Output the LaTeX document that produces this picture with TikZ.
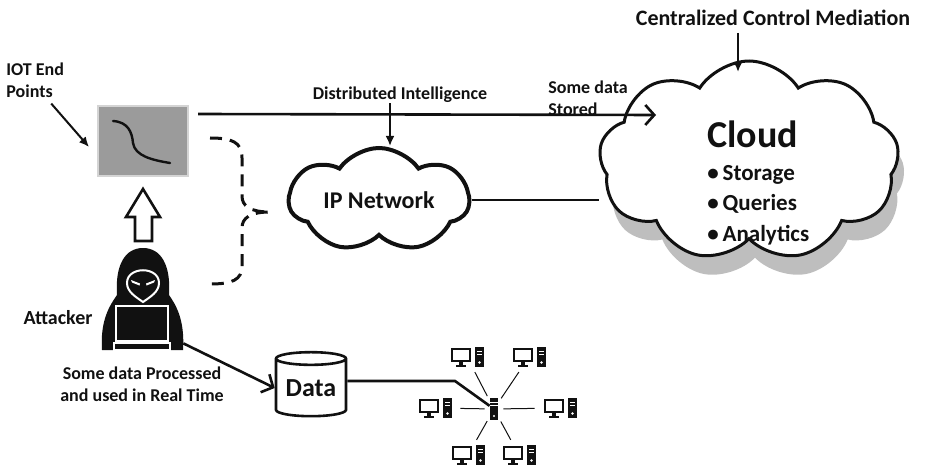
\documentclass[tikz,border=0pt]{standalone}
\usepackage{fontspec}
\setmainfont{Carlito}
\usetikzlibrary{positioning, arrows.meta, shapes.symbols, shapes.geometric}
\definecolor{ink}{HTML}{111111}
\definecolor{pad}{HTML}{9B9B9B}
\definecolor{rim}{HTML}{D4D4D4}
\definecolor{haze}{HTML}{BEBEBE}

\tikzset{
  pc/.pic={
    \draw[ink, line width=1.2pt] (-15,-8) rectangle (3,4);
    \fill[ink] (-8,4) rectangle (-4,8);
    \fill[ink] (-11,7.5) rectangle (-1,10);
    \fill[ink] (8,-10) rectangle (17,10);
    \draw[white, line width=0.45pt] (10,-6) -- (15,-6) (10,-3) -- (15,-3);
    \fill[white] (12.5,5.5) circle (1.3);
  }
}

\begin{document}
\begin{tikzpicture}[x=0.5pt, y=-0.5pt, ink,
  lbl/.style={font=\bfseries\fontsize{9}{11}\selectfont, inner sep=0pt},
  arr/.style={-{Latex[length=5pt, width=4.5pt]}, line width=1pt},
  barb/.style={-{Straight Barb[length=4.5pt, width=10pt]}, line width=1.3pt},
  wire/.style={line width=1.3pt},
  spoke/.style={line width=0.5pt, shorten <=2.5pt, shorten >=1pt},
  pcbox/.style={minimum width=23pt, minimum height=13pt, inner sep=0pt},
  bigcloud/.style={cloud, cloud puffs=9, cloud puff arc=115, cloud ignores aspect,
                   minimum width=150pt, minimum height=100pt, inner sep=0pt},
  brace/.style={line width=1.5pt, dash pattern=on 6pt off 4pt}]
  \useasboundingbox (0,0) rectangle (935,470);

  \node[draw=rim, line width=1pt, fill=pad, minimum width=45pt, minimum height=35pt, inner sep=0pt] (ep) at (143,141) {};
  \draw[line width=1.2pt, line cap=round] (113,121) .. controls (128,122) and (132,132) .. (133,143)
    .. controls (135,156) and (152,160) .. (170,163);
  \node[lbl, align=left, anchor=north west] (iot) at (6,62) {IOT End\\Points};
  \draw[arr] ([shift={(8pt,-3pt)}]iot.south) -- ([shift={(-4pt,-3pt)}]ep.west);

  \draw[line width=1.3pt, fill=white] (143,189) -- (160,217) -- (152,217) -- (152,241)
    -- (135,241) -- (135,217) -- (126,217) -- cycle;

  \node[minimum width=40pt, minimum height=55pt, inner sep=0pt] (hk) at (143,303) {};
  \fill (102,350) .. controls (100,320) and (110,305) .. (117,295) .. controls (115,265) and (125,248) .. (143,248)
    .. controls (161,248) and (171,265) .. (169,295) .. controls (176,305) and (185,320) .. (183,350) -- cycle;
  \draw[white, line width=1pt, fill=ink] (127,283) .. controls (127,266) and (159,266) .. (159,283)
    .. controls (159,292) and (150,297) .. (143,302) .. controls (136,297) and (127,292) .. (127,283) -- cycle;
  \fill[white] (131,280) -- (140,283.5) -- (139.5,285.5) -- (132,282.5) -- cycle;
  \fill[white] (155,280) -- (146,283.5) -- (146.5,285.5) -- (154,282.5) -- cycle;
  \draw[white, line width=1pt, fill=ink] (116,306) rectangle (168,341);
  \draw[white, line width=1pt, fill=ink] (114,343) rectangle (170,350);
  \node[font=\bfseries\fontsize{10}{12}\selectfont] (atk) at (58,318) {Attacker};

  \draw[brace] (210,138) .. controls (232,138) and (242,142) .. (242,158) -- (242,196)
    .. controls (242,206) and (250,212) .. (270,212) .. controls (250,212) and (242,218) .. (242,228)
    -- (242,266) .. controls (242,280) and (232,284) .. (210,284);

  \node[cloud, cloud puffs=7, cloud puff arc=110, cloud ignores aspect, draw, line width=2pt, fill=white,
        minimum width=90pt, minimum height=52pt, inner sep=0pt,
        font=\bfseries\fontsize{12}{12}\selectfont] (ip) at (379,200) {IP Network};
  \node[lbl] (di) at (400,95) {Distributed Intelligence};
  \coordinate (dix) at (390,0);
  \draw[arr] (di.south -| dix) -- (ip.north -| dix);

  \node[bigcloud, fill=haze] (shd) at (755,180) {};
  \node[bigcloud, draw, line width=1.5pt, fill=white] (cl) at (749,161) {};
  \node[anchor=base west, inner sep=0pt, font=\bfseries\fontsize{19}{19}\selectfont] (clw) at (707,148) {Cloud};
  \node[anchor=base west, align=left, inner sep=0pt, font=\bfseries\fontsize{11.5}{15}\selectfont] (cll) at (707,241)
    {•\,Storage\\•\,Queries\\•\,Analytics};
  \node[font=\bfseries\fontsize{11}{13}\selectfont] (ccm) at (773,18) {Centralized Control Mediation};
  \coordinate (cctip) at (738,72);
  \draw[arr] (ccm.south -| cctip) -- (cctip);

  \node[lbl, align=left, anchor=north west] (sd) at (548,80) {Some data\\Stored};
  \coordinate (st) at (656,115);
  \draw[barb] ([shift={(4.5pt,-4.5pt)}]ep.north east) -- (st);
  \draw[wire] (ip.east) -- (ip.east -| cl.west);

  \node[cylinder, shape border rotate=90, draw, line width=1.3pt, aspect=0.25, minimum width=35pt,
        minimum height=32pt, inner sep=0pt, font=\bfseries\fontsize{13}{13}\selectfont] (db) at (311,388) {Data};
  \node[lbl, align=center] (rt) at (142,384) {Some data Processed\\and used in Real Time};
  \draw[barb] (hk.-45) -- (db.west);

  \node[fill=ink, minimum width=4pt, minimum height=11pt, inner sep=0pt,
        path picture={\draw[white, line width=0.4pt]
          ([yshift=-2pt]path picture bounding box.north west) -- ([yshift=-2pt]path picture bounding box.north east)
          ([yshift=-3.5pt]path picture bounding box.north west) -- ([yshift=-3.5pt]path picture bounding box.north east);
          \fill[white] ([yshift=2pt]path picture bounding box.south) circle (0.6pt);}] (srv) at (494,409) {};
  \coordinate (kink) at (455,381);
  \draw[wire] (db.east |- kink) -- (kink) -- (srv);
  \foreach \n/\px/\py in {a/467/357, b/529/357, c/435/408, d/560/408, e/468/455, f/519/455} {
    \node[pcbox] (\n) at (\px,\py) {};
    \pic at (\n) {pc};
    \draw[spoke] (srv) -- (\n);
  }
\end{tikzpicture}
\end{document}
